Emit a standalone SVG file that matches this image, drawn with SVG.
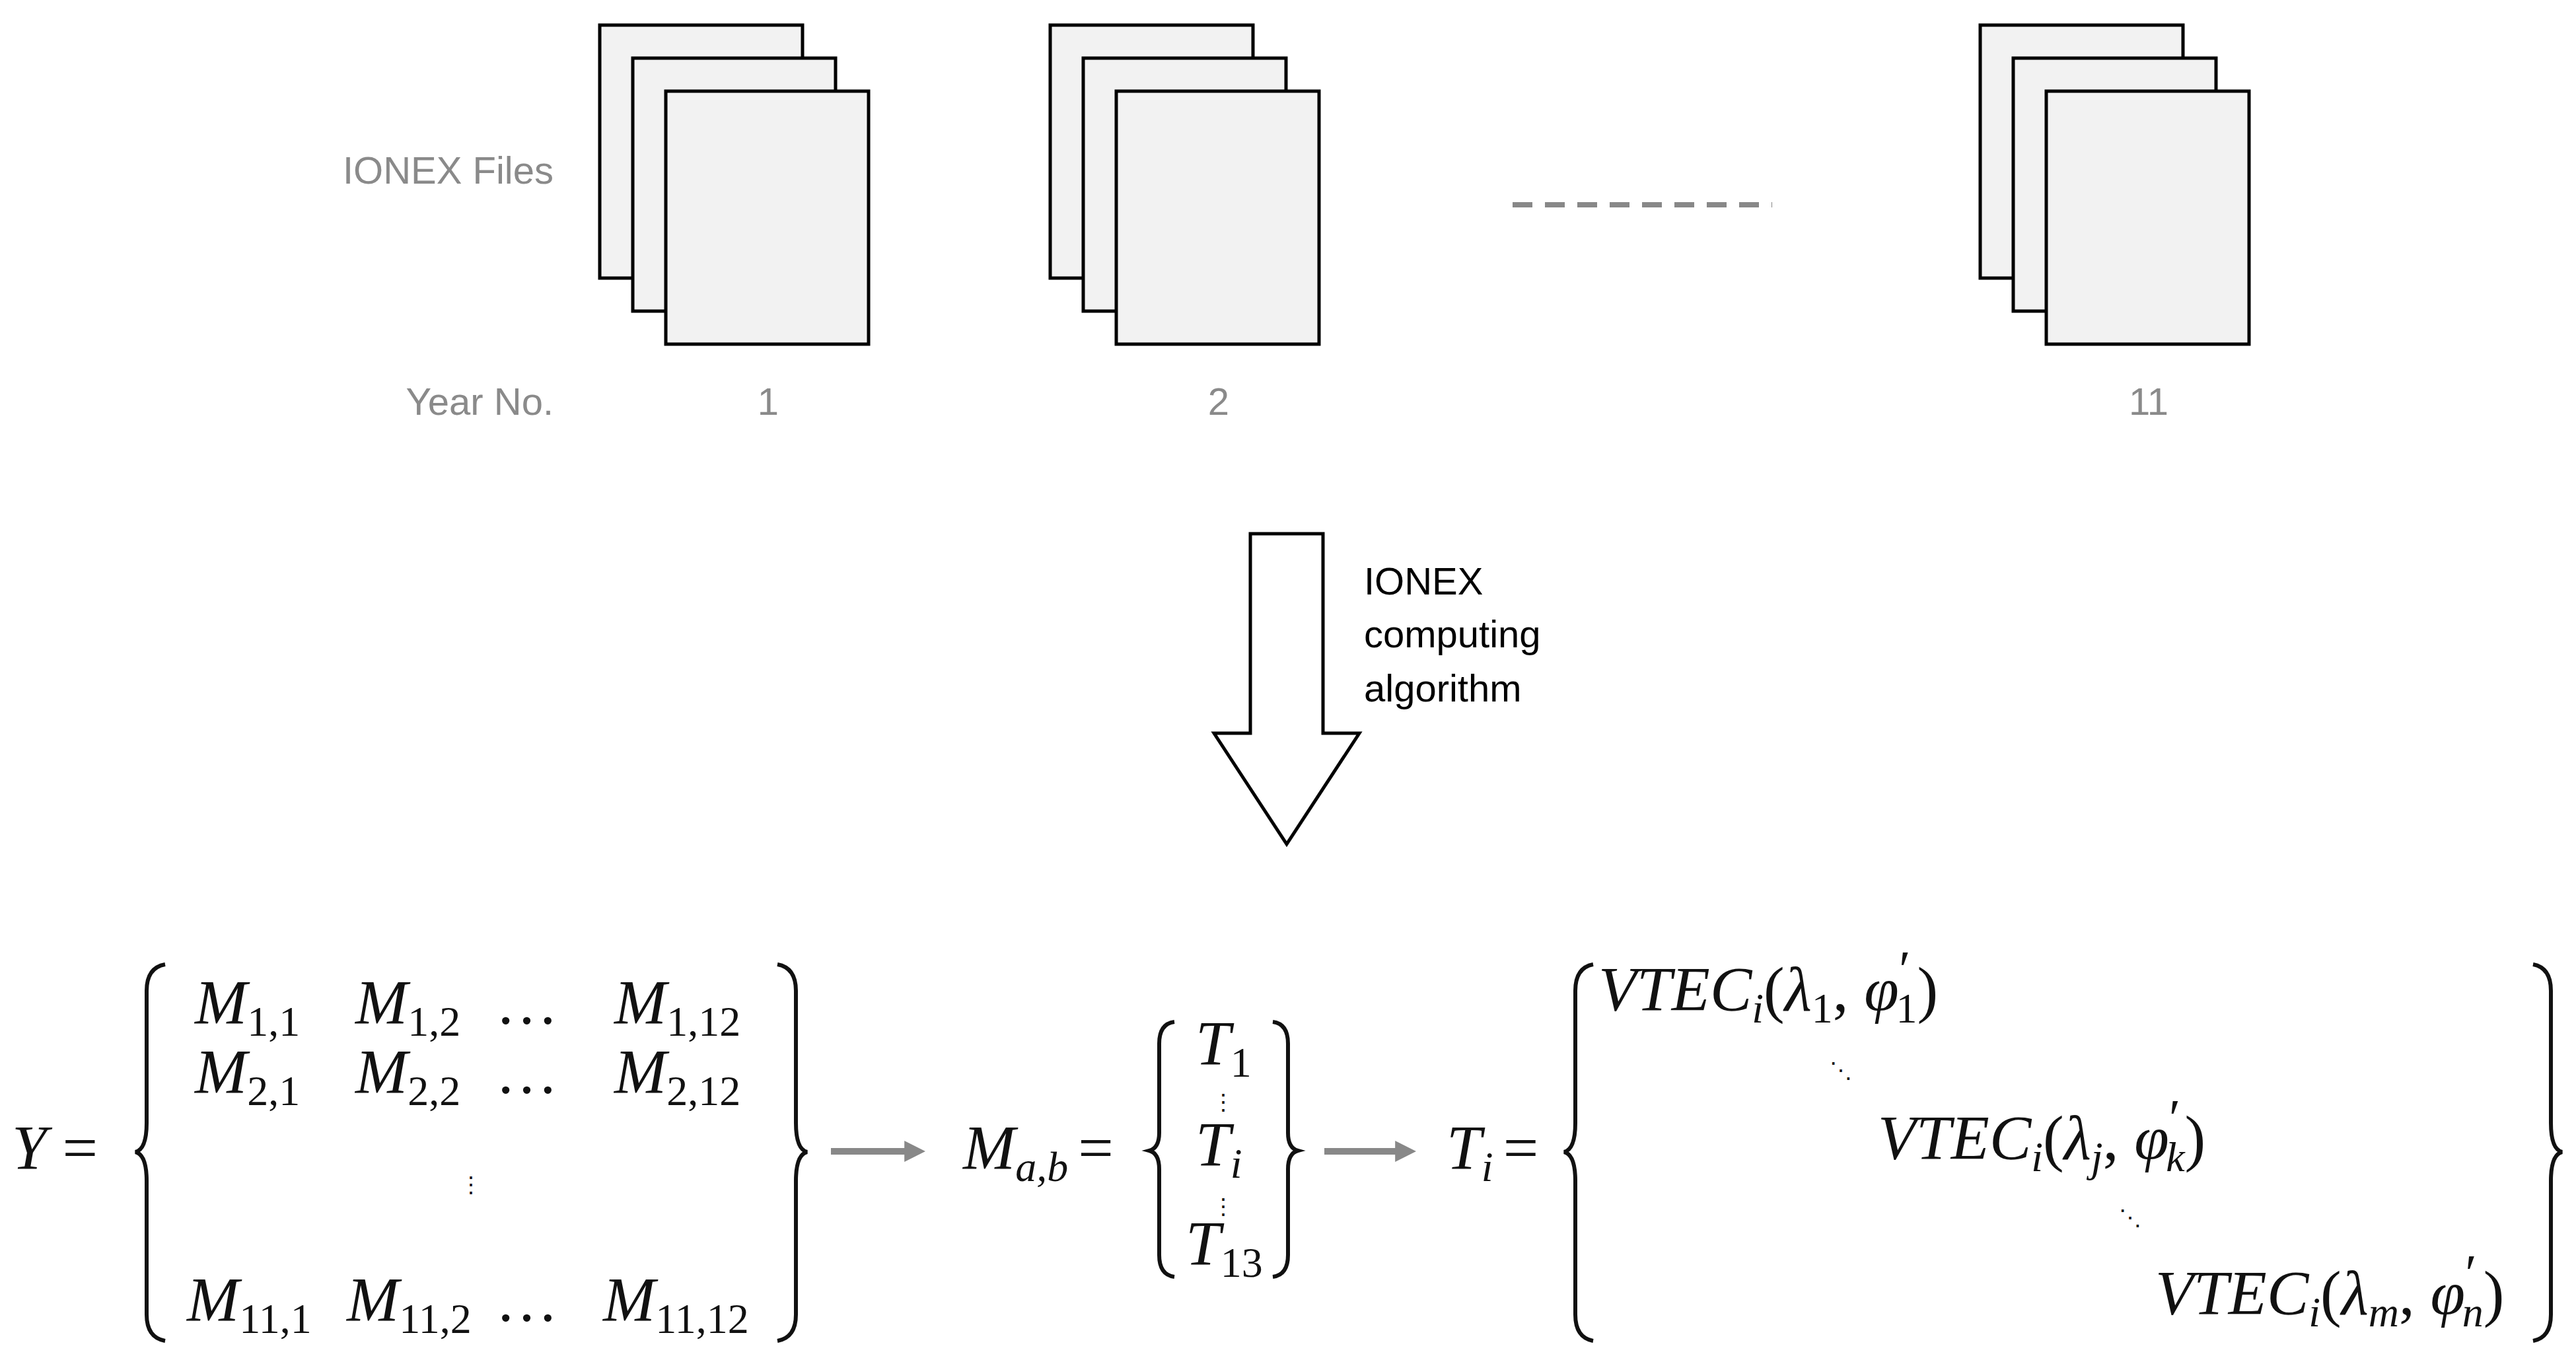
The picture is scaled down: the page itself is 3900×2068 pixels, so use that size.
<svg xmlns="http://www.w3.org/2000/svg" width="3900" height="2068" viewBox="0 0 3900 2068">
<style>
.pg{fill:#f2f2f2;stroke:#000;stroke-width:5}
.lbl{font-family:"Liberation Sans",Arial,sans-serif;font-size:58px;fill:#8a8a8a}
.alg{font-family:"Liberation Sans",Arial,sans-serif;font-size:58px;fill:#000}
.m{font-family:"Liberation Serif","Times New Roman",serif;font-style:italic;font-size:95px;fill:#111}
.u{font-style:normal}
.s{font-size:64px}
.d{font-family:"Liberation Serif","Times New Roman",serif;font-size:34px;fill:#111}
.br{fill:none;stroke:#111;stroke-width:6}
.ga{fill:none;stroke:#888;stroke-width:10}
</style>
<defs>
<marker id="ah" viewBox="0 0 10 10" refX="4" refY="5" markerWidth="3.2" markerHeight="3.2" orient="auto" markerUnits="strokeWidth"><path d="M0,0 L10,5 L0,10 z" fill="#888"/></marker>
</defs>
<g id="stack1"><rect class="pg" x="908" y="38" width="307" height="383"/><rect class="pg" x="958" y="88" width="307" height="383"/><rect class="pg" x="1008" y="138" width="307" height="383"/></g>
<g id="stack2"><rect class="pg" x="1590" y="38" width="307" height="383"/><rect class="pg" x="1640" y="88" width="307" height="383"/><rect class="pg" x="1690" y="138" width="307" height="383"/></g>
<g id="stack11"><rect class="pg" x="2998" y="38" width="307" height="383"/><rect class="pg" x="3048" y="88" width="307" height="383"/><rect class="pg" x="3098" y="138" width="307" height="383"/></g>
<g id="labels">
<text class="lbl" x="838" y="278" text-anchor="end">IONEX Files</text>
<text class="lbl" x="838" y="628" text-anchor="end">Year No.</text>
<text class="lbl" x="1163" y="628" text-anchor="middle">1</text>
<text class="lbl" x="1845" y="628" text-anchor="middle">2</text>
<text class="lbl" x="3253" y="628" text-anchor="middle">11</text>
</g>
<g id="connectors">
<line x1="2290" y1="310" x2="2683" y2="310" stroke="#888" stroke-width="8" stroke-dasharray="30,19"/>
<path d="M1893,808 H2003 V1110 H2058 L1948,1278 L1838,1110 H1893 Z" fill="#fff" stroke="#000" stroke-width="5"/>
<line class="ga" x1="1258" y1="1743" x2="1382" y2="1743" marker-end="url(#ah)"/>
<line class="ga" x1="2005" y1="1743" x2="2125" y2="1743" marker-end="url(#ah)"/>
</g>
<g id="algo">
<text class="alg" x="2065" y="900">IONEX</text>
<text class="alg" x="2065" y="980">computing</text>
<text class="alg" x="2065" y="1062">algorithm</text>
</g>
<g id="Y">
<text class="m" x="18" y="1770">Y <tspan class="u">=</tspan></text>
<path class="br" d="M250,1460 Q222,1465 222,1500 V1700 Q222,1740 205,1744 Q222,1748 222,1788 V1990 Q222,2025 250,2030"/>
<path class="br" d="M1177,1460 Q1205,1465 1205,1500 V1700 Q1205,1740 1222,1744 Q1205,1748 1205,1788 V1990 Q1205,2025 1177,2030"/>
<text class="m" y="1550"><tspan x="295">M</tspan><tspan class="s u" dy="18">1,1</tspan><tspan x="538" dy="-18">M</tspan><tspan class="s u" dy="18">1,2</tspan><tspan x="750" dy="-18" class="u">…</tspan><tspan x="930">M</tspan><tspan class="s u" dy="18">1,12</tspan></text>
<text class="m" y="1655"><tspan x="295">M</tspan><tspan class="s u" dy="18">2,1</tspan><tspan x="538" dy="-18">M</tspan><tspan class="s u" dy="18">2,2</tspan><tspan x="750" dy="-18" class="u">…</tspan><tspan x="930">M</tspan><tspan class="s u" dy="18">2,12</tspan></text>
<text class="d" x="713" y="1805" text-anchor="middle">⋮</text>
<text class="m" y="2000"><tspan x="283">M</tspan><tspan class="s u" dy="18">11,1</tspan><tspan x="525" dy="-18">M</tspan><tspan class="s u" dy="18">11,2</tspan><tspan x="750" dy="-18" class="u">…</tspan><tspan x="913">M</tspan><tspan class="s u" dy="18">11,12</tspan></text>
</g>
<g id="Mab">
<text class="m" x="1458" y="1770">M<tspan class="s" dy="18">a,b</tspan><tspan class="u" dy="-18" dx="15">=</tspan></text>
<path class="br" d="M1778,1547 Q1755,1550 1755,1580 V1715 Q1755,1738 1740,1742 Q1755,1746 1755,1770 V1900 Q1755,1930 1778,1933"/>
<path class="br" d="M1927,1547 Q1950,1550 1950,1580 V1715 Q1950,1738 1965,1742 Q1950,1746 1950,1770 V1900 Q1950,1930 1927,1933"/>
<text class="m" x="1810" y="1612">T<tspan class="s u" dy="18">1</tspan></text>
<text class="d" x="1852" y="1680" text-anchor="middle" font-size="28">⋮</text>
<text class="m" x="1810" y="1765">T<tspan class="s" dy="18">i</tspan></text>
<text class="d" x="1852" y="1838" text-anchor="middle" font-size="28">⋮</text>
<text class="m" x="1795" y="1915">T<tspan class="s u" dy="18">13</tspan></text>
</g>
<g id="Ti">
<text class="m" x="2190" y="1770">T<tspan class="s" dy="18">i</tspan><tspan class="u" dy="-18" dx="15">=</tspan></text>
<path class="br" d="M2412,1460 Q2385,1465 2385,1500 V1700 Q2385,1740 2368,1744 Q2385,1748 2385,1788 V1990 Q2385,2025 2412,2030"/>
<path class="br" d="M3835,1460 Q3862,1465 3862,1500 V1700 Q3862,1740 3879,1744 Q3862,1748 3862,1788 V1990 Q3862,2025 3835,2030"/>
<text class="m" x="2420" y="1530">VTEC<tspan class="s" dy="18">i</tspan><tspan class="u" dy="-18">(</tspan>λ<tspan class="s u" dy="18">1</tspan><tspan class="u" dy="-18">, </tspan>φ<tspan class="u" font-size="80" dy="-35">′</tspan><tspan class="s u" dx="-22" dy="53">1</tspan><tspan class="u" dy="-18">)</tspan></text>
<text class="d" x="2770" y="1632" font-size="40">⋱</text>
<text class="m" x="2843" y="1755">VTEC<tspan class="s" dy="18">i</tspan><tspan class="u" dy="-18">(</tspan>λ<tspan class="s" dy="18">j</tspan><tspan class="u" dy="-18">, </tspan>φ<tspan class="u" font-size="80" dy="-35">′</tspan><tspan class="s" dx="-22" dy="53">k</tspan><tspan class="u" dy="-18">)</tspan></text>
<text class="d" x="3208" y="1855" font-size="40">⋱</text>
<text class="m" x="3263" y="1990">VTEC<tspan class="s" dy="18">i</tspan><tspan class="u" dy="-18">(</tspan>λ<tspan class="s" dy="18">m</tspan><tspan class="u" dy="-18">, </tspan>φ<tspan class="u" font-size="80" dy="-35">′</tspan><tspan class="s" dx="-22" dy="53">n</tspan><tspan class="u" dy="-18">)</tspan></text>
</g>
</svg>
